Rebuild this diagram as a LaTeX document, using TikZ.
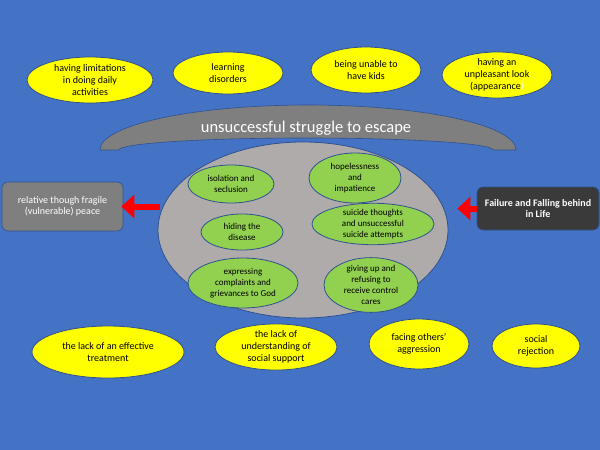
\documentclass[tikz,border=0pt]{standalone}
\usepackage{fontspec}
\setmainfont{Carlito}
\usetikzlibrary{shapes.geometric,arrows.meta}
\definecolor{bgblue}{HTML}{4472C4}
\definecolor{edgeblue}{HTML}{2F528F}
\definecolor{ylw}{HTML}{FFFF00}
\definecolor{grn}{HTML}{92D050}
\definecolor{lgray}{HTML}{AFABAB}
\definecolor{mgray}{HTML}{7F7F7F}
\definecolor{dgray}{HTML}{3A3A3A}
\tikzset{
  yell/.style={ellipse, fill=ylw, draw=edgeblue, line width=0.8pt, inner sep=0pt, align=center,
    font=\fontsize{10}{12}\selectfont, text=black},
  grell/.style={ellipse, fill=grn, draw=edgeblue, line width=0.8pt, inner sep=0pt, align=center,
    font=\fontsize{9}{10.8}\selectfont, text=black},
  bigell/.style={ellipse, fill=lgray, draw=edgeblue, line width=0.8pt, inner sep=0pt},
  graybox/.style={rectangle, rounded corners=6pt, fill=mgray, draw=edgeblue, line width=0.6pt, align=center,
    text=white, font=\fontsize{10}{11.5}\selectfont, inner sep=0pt},
  darkbox/.style={rectangle, rounded corners=6pt, fill=dgray, draw=edgeblue, line width=0.6pt, align=center,
    text=white, font=\bfseries\fontsize{10}{11.5}\selectfont, inner sep=0pt},
  redarrow/.style={draw=red, line width=6pt, -{Triangle[width=23pt,length=13pt]}},
}
\begin{document}
\begin{tikzpicture}[x=1pt,y=-1pt]
\fill[bgblue] (0,0) rectangle (600,450);
\useasboundingbox (0,0) rectangle (600,450);

% top yellow ellipses
\node[yell, minimum width=126pt, minimum height=46pt] (y1) at (90,80) {having limitations\\in doing daily\\activities};
\node[yell, minimum width=110pt, minimum height=42pt] (y2) at (228,73) {learning\\disorders};
\node[yell, minimum width=110pt, minimum height=46pt] (y3) at (366,70) {being unable to\\have kids};
\node[yell, minimum width=110pt, minimum height=44pt] (y4) at (497,75) {having an\\unpleasant look\\(appearance\textcolor{white}{)}};

% arc band
\filldraw[fill=mgray, draw=edgeblue, line width=0.6pt]
  (100,150) arc[start angle=180, end angle=360, x radius=208, y radius=45]
  -- (493,150) arc[start angle=0, end angle=-180, x radius=187, y radius=12]
  -- cycle;
\node[text=white, font=\fontsize{16.5}{18}\selectfont] (title) at (306,128) {unsuccessful struggle to escape};

% central ellipse
\node[bigell, minimum width=290pt, minimum height=176pt] (big) at (303,230) {};

% green ellipses
\node[grell, minimum width=86pt, minimum height=38pt] (ga) at (231,184) {isolation and\\seclusion};
\node[grell, minimum width=82pt, minimum height=36pt] (gb) at (242,232) {hiding the\\disease};
\node[grell, minimum width=110pt, minimum height=50pt] (gc) at (243,283) {expressing\\complaints and\\grievances to God};
\node[grell, minimum width=92pt, minimum height=50pt] (gd) at (355,178) {hopelessness\\and\\impatience};
\node[grell, minimum width=122pt, minimum height=38pt] (ge) at (373,224) {suicide thoughts\\and unsuccessful\\suicide attempts};
\node[grell, minimum width=94pt, minimum height=44pt] (gf) at (371,285) {giving up and\\refusing to\\receive control\\cares};

% side boxes
\node[graybox, minimum width=121pt, minimum height=49pt] (lbox) at (62.5,206.5) {relative though fragile\\(vulnerable) peace};
\node[darkbox, minimum width=122pt, minimum height=43pt] (rbox) at (538,208.5) {Failure and Falling behind\\in Life};

% red arrows
\draw[redarrow, shorten <=-2pt, shorten >=-2pt] (lbox.east -| big.west) -- (lbox.east);
\draw[redarrow, shorten >=9pt] (rbox.west) -- (rbox.west -| big.east);

% bottom yellow ellipses
\node[yell, minimum width=152pt, minimum height=52pt] (b1) at (108,352) {the lack of an effective\\treatment};
\node[yell, minimum width=122pt, minimum height=46pt] (b2) at (276,347) {the lack of\\understanding of\\social support};
\node[yell, minimum width=100pt, minimum height=50pt] (b3) at (419,344) {facing others'\\aggression};
\node[yell, minimum width=88pt, minimum height=44pt] (b4) at (536,346) {social\\rejection};
\end{tikzpicture}
\end{document}
